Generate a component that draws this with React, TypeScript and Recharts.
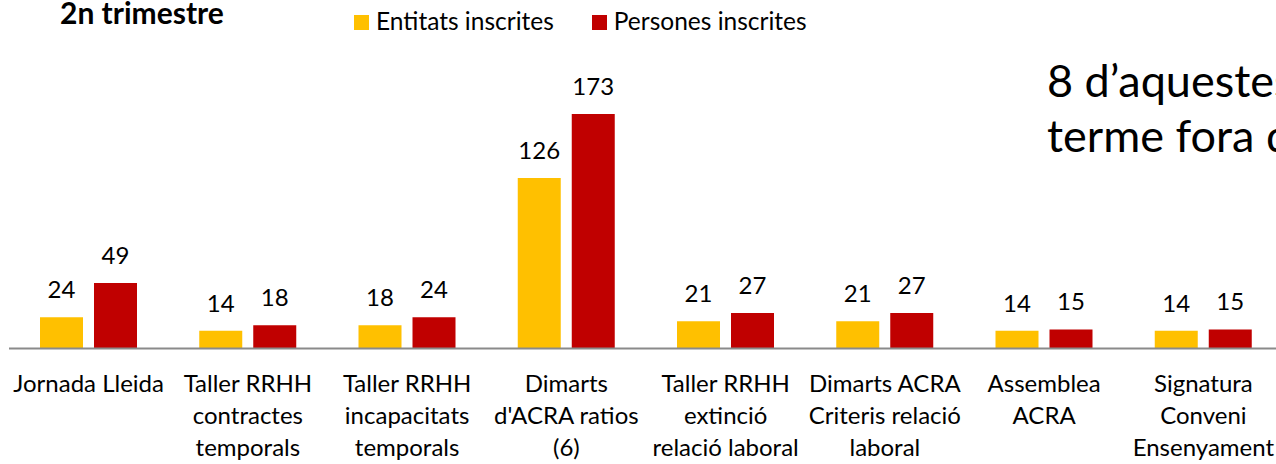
import { Bar, BarChart, LabelList, Legend, XAxis, YAxis } from "recharts";

const categories = [
  "Jornada Lleida",
  "Taller RRHH\ncontractes\ntemporals",
  "Taller RRHH\nincapacitats\ntemporals",
  "Dimarts\nd'ACRA ratios\n(6)",
  "Taller RRHH\nextinció\nrelació laboral",
  "Dimarts ACRA\nCriteris relació\nlaboral",
  "Assemblea\nACRA",
  "Signatura\nConveni\nEnsenyament",
];
const entitats = [24, 14, 18, 126, 21, 21, 14, 14];
const persones = [49, 18, 24, 173, 27, 27, 15, 15];

const data = categories.map((c, i) => ({
  cat: c,
  entitats: entitats[i],
  persones: persones[i],
}));

const font = "Lato, 'Open Sans', sans-serif";

function CatTick({ x, y, payload }: any) {
  const lines = String(payload.value).split("\n");
  return (
    <g>
      {lines.map((l, i) => (
        <text
          key={i}
          x={x}
          y={y + 43.5 + i * 32}
          textAnchor="middle"
          fontFamily={font}
          fontSize={24}
          fill="#000"
        >
          {l}
        </text>
      ))}
    </g>
  );
}

function LegendBox({ payload }: any) {
  return (
    <div style={{ fontFamily: font, fontSize: 24.5, lineHeight: "24px", color: "#000", whiteSpace: "nowrap" }}>
      {(payload ?? []).map((p: any, i: number) => (
        <span key={i} style={{ marginRight: 38 }}>
          <span
            style={{
              display: "inline-block",
              width: 15,
              height: 15,
              background: p.color,
              marginRight: 7,
              verticalAlign: "baseline",
            }}
          />
          {p.value}
        </span>
      ))}
    </div>
  );
}

export default function App() {
  return (
    <div
      style={{
        position: "fixed",
        left: 0,
        top: 0,
        width: 1276,
        height: 464,
        overflow: "hidden",
        background: "#fff",
      }}
    >
      <svg width={300} height={34} style={{ position: "absolute", left: 0, top: 0 }}>
        <text x={60} y={23.5} fontFamily={font} fontWeight={700} fontSize={30} fill="#000">
          2n trimestre
        </text>
      </svg>
      <BarChart
        width={1290}
        height={464}
        data={data}
        barSize={43}
        barGap={11}
        margin={{ top: 103, right: 7, left: 9, bottom: 0 }}
      >
        <XAxis
          dataKey="cat"
          height={115.5}
          interval={0}
          tickLine={false}
          tickSize={0}
          tickMargin={0}
          axisLine={{ stroke: "#8a8a8a", strokeWidth: 2 }}
          tick={<CatTick />}
        />
        <YAxis hide domain={[1, 181]} allowDataOverflow />
        <Legend
          layout="horizontal"
          verticalAlign="middle"
          align="center"
          wrapperStyle={{ top: 9, left: 354, width: 600, height: 30 }}
          content={<LegendBox />}
        />
        <Bar dataKey="entitats" name="Entitats inscrites" fill="#FFC000" isAnimationActive={false}>
          <LabelList dataKey="entitats" position="top" offset={19} fill="#000" fontSize={24} fontFamily={font} />
        </Bar>
        <Bar dataKey="persones" name="Persones inscrites" fill="#C00000" isAnimationActive={false}>
          <LabelList dataKey="persones" position="top" offset={19} fill="#000" fontSize={24} fontFamily={font} />
        </Bar>
      </BarChart>
      <svg width={240} height={170} style={{ position: "absolute", left: 1036, top: 40 }}>
        <text x={11} y={57} fontFamily={font} fontSize={45} fill="#000">
          8 d’aquestes
        </text>
        <text x={11} y={112} fontFamily={font} fontSize={45} fill="#000">
          terme fora de
        </text>
      </svg>
    </div>
  );
}
